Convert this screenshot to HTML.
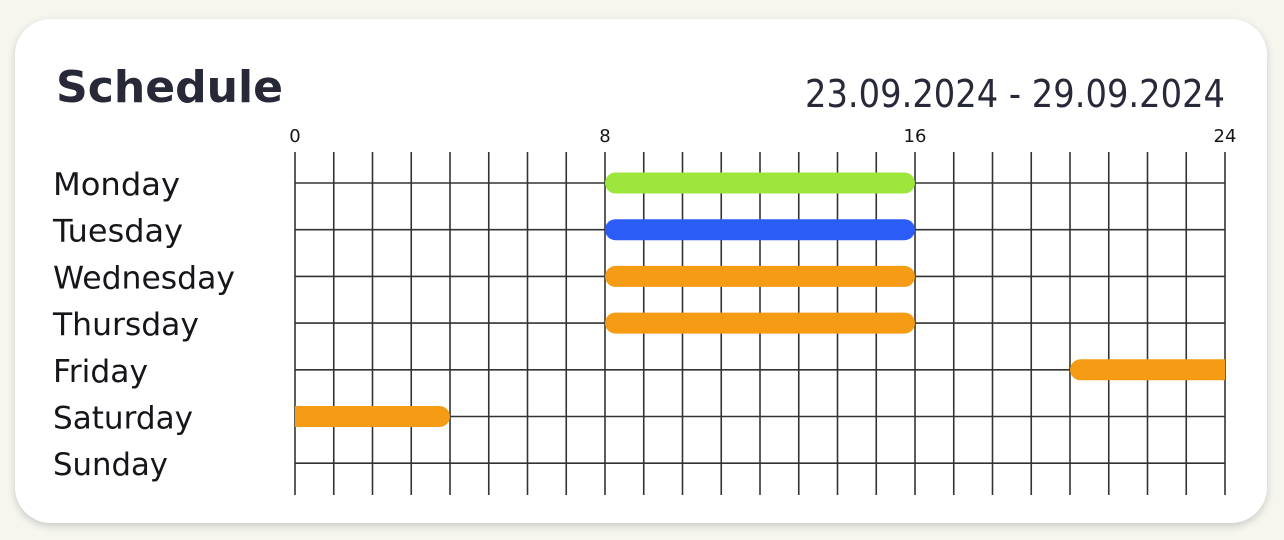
<!DOCTYPE html>
<html><head><meta charset="utf-8"><style>
html,body{margin:0;padding:0;background:#f6f6ef;width:1284px;height:540px;overflow:hidden}
svg{display:block}
text{font-family:"DejaVu Sans","Liberation Sans",sans-serif;fill:#15151a}
</style></head><body>
<svg id="chart" width="1284" height="540">
<defs><filter id="sh" x="-5%" y="-5%" width="110%" height="115%"><feDropShadow dx="0" dy="3" stdDeviation="4" flood-color="#000" flood-opacity="0.18"/></filter>
<clipPath id="gc"><rect x="295" y="140" width="930" height="360"/></clipPath></defs>
<rect x="15" y="19" width="1252" height="504" rx="36" fill="#fff" filter="url(#sh)"/>
<text x="56" y="102" font-size="44" font-weight="bold" style="fill:#272838" textLength="227" lengthAdjust="spacingAndGlyphs">Schedule</text>
<text x="805" y="107" font-size="38" style="fill:#272838" textLength="420" lengthAdjust="spacingAndGlyphs">23.09.2024 - 29.09.2024</text>
<g id="grid"></g><g id="bars" clip-path="url(#gc)"></g><g id="labels"></g>
</svg>
<script>
const days=["Monday","Tuesday","Wednesday","Thursday","Friday","Saturday","Sunday"];
const starts=[8,8,8,8,20,0,null];
const ends=[16,16,16,16,24,4,null];
const colors=["#9de63c","#2b5cf6","#f59c14","#f59c14","#f59c14","#f59c14",null];
const tickLabels=[0,8,16,24];
const dayWidths=[127,130,182,146,95,140,115];
const NS="http://www.w3.org/2000/svg";
const x=h=>295+h*(930/24);
const y=i=>183+i*46.7;
function mk(t,a,p){const e=document.createElementNS(NS,t);for(const k in a)e.setAttribute(k,a[k]);p.appendChild(e);return e;}
const g=document.getElementById('grid'),b=document.getElementById('bars'),l=document.getElementById('labels');
for(let h=0;h<=24;h++){const ln=mk('line',{x1:x(h),x2:x(h),y1:152,y2:495,stroke:'#333','stroke-width':1.6},g);

}
days.forEach((d,i)=>{const ln=mk('line',{x1:x(0),x2:x(24),y1:y(i),y2:y(i),stroke:'#333','stroke-width':1.6},g);


const t=mk('text',{x:53,y:y(i)+12,'font-size':31,textLength:dayWidths[i],lengthAdjust:'spacingAndGlyphs'},l);t.textContent=d;


if(starts[i]!==null){const x0=x(starts[i]),x1=x(ends[i]);const lx=starts[i]===0?x0-12:x0;const rx=ends[i]===24?x1+12:x1;
const r=mk('rect',{x:lx,y:y(i)-10.5,width:rx-lx,height:21,rx:10.5,fill:colors[i]},b);

}});
tickLabels.forEach(v=>{const t=mk('text',{x:x(v),y:142,'font-size':18,'text-anchor':'middle'},l);t.textContent=v;

});
</script>
</body></html>
